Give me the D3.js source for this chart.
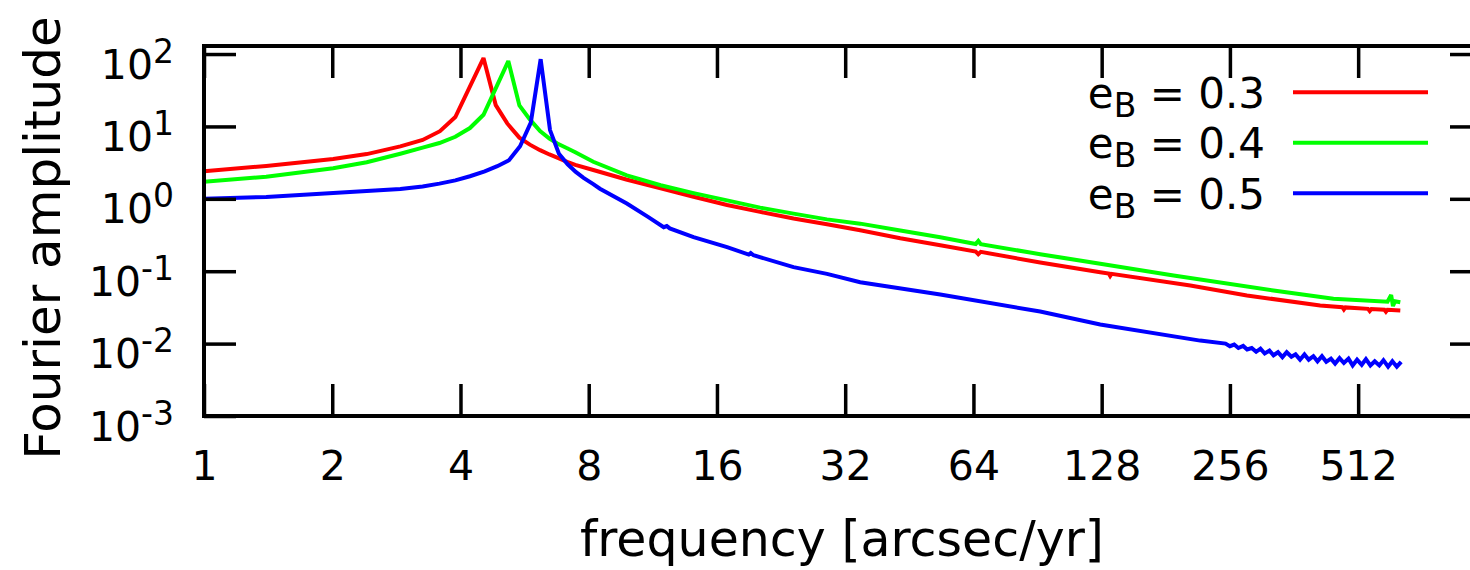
<!DOCTYPE html>
<html>
<head>
<meta charset="utf-8">
<script src="https://cdn.jsdelivr.net/npm/d3@7"></script>
<style>
  html, body { margin: 0; padding: 0; background: #fff; }
  svg { display: block; font-family: "DejaVu Sans", sans-serif; }
</style>
</head>
<body>
<svg id="chart" width="1470" height="570"></svg>
<script>
// Fourier amplitude spectra for three eccentricities, [frequency, amplitude]
const seriesNames = ["0.3", "0.4", "0.5"];
const seriesColors = ["#ff0000", "#00ff00", "#0000ff"];

const spectrum03 = [
  [1.00, 2.40], [1.40, 2.85], [2.01, 3.55], [2.41, 4.15], [2.89, 5.3], [3.26, 6.5],
  [3.58, 8.6], [3.89, 13.5], [4.53, 88], [4.84, 19.7], [5.15, 11.0], [5.50, 7.0],
  [5.82, 5.6], [6.15, 4.7], [6.47, 4.1], [6.79, 3.65], [7.12, 3.25], [7.44, 2.95],
  [8.2, 2.5], [9.8, 1.85], [11.8, 1.40], [14.1, 1.07], [16.9, 0.82], [20.2, 0.66],
  [24.2, 0.535], [29.0, 0.445], [34.7, 0.368], [43.1, 0.285], [53.5, 0.228],
  [64.8, 0.187], [65.7, 0.172], [66.6, 0.185], [91.8, 0.132], [127, 0.097],
  [133, 0.093], [134, 0.086], [135, 0.092], [206.7, 0.0635], [280.7, 0.0462],
  [417, 0.0336], [470, 0.0318], [474, 0.0295], [478, 0.0316], [540, 0.0302],
  [545, 0.0282], [550, 0.0301], [590, 0.0294], [595, 0.0276], [600, 0.0293],
  [643, 0.0286]
];

const spectrum04 = [
  [1.00, 1.72], [1.40, 2.02], [2.01, 2.65], [2.41, 3.2], [2.89, 4.2], [3.26, 5.1],
  [3.57, 5.9], [3.89, 7.2], [4.21, 9.5], [4.53, 14.5], [5.18, 80], [5.50, 19.5],
  [5.82, 12.5], [6.15, 8.6], [6.47, 6.8], [6.79, 5.7], [7.12, 5.0], [7.44, 4.4],
  [8.2, 3.25], [9.83, 2.11], [11.8, 1.54], [14.1, 1.20], [16.9, 0.953], [20.2, 0.755],
  [24.2, 0.624], [29.0, 0.520], [34.7, 0.454], [43.1, 0.365], [53.5, 0.294],
  [64.8, 0.238], [65.7, 0.262], [66.6, 0.236], [91.8, 0.172], [127, 0.127],
  [188.8, 0.0873], [324, 0.0542], [448, 0.0416], [600, 0.0380], [612, 0.0470],
  [618, 0.0330], [625, 0.0385], [643, 0.0373]
];

const spectrum05 = [
  [1.00, 1.00], [1.40, 1.06], [2.01, 1.20], [2.41, 1.28], [2.89, 1.37], [3.26, 1.48],
  [3.57, 1.62], [3.89, 1.80], [4.21, 2.05], [4.56, 2.40], [4.88, 2.82], [5.20, 3.41],
  [5.52, 5.33], [5.85, 11.3], [6.17, 85], [6.49, 8.9], [6.81, 4.2], [7.14, 3.0],
  [7.46, 2.35], [7.78, 1.95], [8.2, 1.6], [8.5, 1.38], [9.83, 0.86], [11.0, 0.567],
  [12.0, 0.405], [12.2, 0.42], [12.4, 0.39], [14.1, 0.296], [16.9, 0.215],
  [19.0, 0.170], [19.2, 0.178], [19.5, 0.166], [24.2, 0.114], [29.0, 0.092],
  [34.7, 0.0705], [53.5, 0.0478], [91.8, 0.0277], [127, 0.0184], [218, 0.0110],
  [250, 0.0100], [256, 0.0092], [262, 0.0097], [268, 0.0087], [275, 0.0093],
  [281, 0.0083], [288, 0.0087], [295, 0.0077], [302, 0.0085], [309, 0.0073],
  [317, 0.0080], [324, 0.0069], [332, 0.0076], [340, 0.0065], [348, 0.0076],
  [357, 0.0066], [365, 0.0071], [374, 0.0060], [383, 0.0071], [392, 0.0060],
  [402, 0.0067], [411, 0.0057], [421, 0.0067], [431, 0.0056], [442, 0.0062],
  [452, 0.0053], [463, 0.0063], [474, 0.0054], [486, 0.0062], [497, 0.0050],
  [509, 0.0060], [522, 0.0051], [534, 0.0061], [547, 0.0050], [560, 0.0057],
  [574, 0.0050], [587, 0.0059], [602, 0.0048], [616, 0.0057], [631, 0.0048],
  [646, 0.0056]
];

const xTickValues = [1, 2, 4, 8, 16, 32, 64, 128, 256, 512];
const yTickExponents = [-3, -2, -1, 0, 1, 2];
const xLabel = "frequency [arcsec/yr]";
const yLabel = "Fourier amplitude";

const allSeries = [spectrum03, spectrum04, spectrum05];

// Layout
const plot = { left: 204, right: 1482, top: 46, bottom: 416 };
const tickLen = 32;
const curveWidth = 4;

const svg = d3.select("#chart");

const x = d3.scaleLog().base(2).domain([1, 1000]).range([plot.left, plot.right]);
const y = d3.scaleLog().base(10).domain([1e-3, Math.pow(10, 2.111)]).range([plot.bottom, plot.top]);

const yTickValues = yTickExponents.map(e => Math.pow(10, e));

// Curves
const line = d3.line().x(d => x(d[0])).y(d => y(d[1])).curve(d3.curveLinear);

svg.append("defs").append("clipPath").attr("id", "plotClip")
  .append("rect")
  .attr("x", plot.left).attr("y", plot.top)
  .attr("width", plot.right - plot.left).attr("height", plot.bottom - plot.top);

const curves = svg.append("g").attr("clip-path", "url(#plotClip)");
allSeries.forEach((s, i) => {
  curves.append("path")
    .datum(s)
    .attr("fill", "none")
    .attr("stroke", seriesColors[i])
    .attr("stroke-width", curveWidth)
    .attr("stroke-linejoin", "miter")
    .attr("stroke-miterlimit", 2)
    .attr("d", line);
});

// Axes: ticks point inward on all four sides
function styleAxis(g) {
  g.select(".domain").remove();
  g.selectAll(".tick line").attr("stroke", "#000").attr("stroke-width", 3.5);
}

const xAxisBottom = svg.append("g")
  .attr("transform", `translate(0,${plot.bottom})`)
  .call(d3.axisBottom(x).tickValues(xTickValues).tickSize(-tickLen).tickFormat(d3.format("d")));
styleAxis(xAxisBottom);
xAxisBottom.selectAll(".tick text")
  .attr("y", 64).attr("dy", null)
  .attr("font-size", 41).attr("fill", "#000")
  .attr("font-family", "DejaVu Sans");

const xAxisTop = svg.append("g")
  .attr("transform", `translate(0,${plot.top})`)
  .call(d3.axisTop(x).tickValues(xTickValues).tickSize(-tickLen).tickFormat(""));
styleAxis(xAxisTop);

const yAxisLeft = svg.append("g")
  .attr("transform", `translate(${plot.left},0)`)
  .call(d3.axisLeft(y).tickValues(yTickValues).tickSize(-tickLen).tickFormat(""));
styleAxis(yAxisLeft);
yAxisLeft.selectAll(".tick").each(function(d) {
  const t = d3.select(this).select("text");
  t.text(null)
    .attr("x", -30).attr("dy", null).attr("y", 24)
    .attr("text-anchor", "end")
    .attr("font-size", 41).attr("fill", "#000")
    .attr("font-family", "DejaVu Sans");
  t.append("tspan").text("10");
  t.append("tspan").attr("dy", -16).attr("font-size", 33).text(String(Math.round(Math.log10(d))));
});

const yAxisRight = svg.append("g")
  .attr("transform", `translate(${plot.right},0)`)
  .call(d3.axisRight(y).tickValues(yTickValues).tickSize(-tickLen).tickFormat(""));
styleAxis(yAxisRight);

// Frame
svg.append("rect")
  .attr("x", plot.left).attr("y", plot.top)
  .attr("width", plot.right - plot.left).attr("height", plot.bottom - plot.top)
  .attr("fill", "none").attr("stroke", "#000").attr("stroke-width", 4);

// Axis titles
svg.append("text")
  .attr("x", 842).attr("y", 556)
  .attr("text-anchor", "middle")
  .attr("font-size", 49).attr("fill", "#000")
  .text(xLabel);

svg.append("text")
  .attr("transform", "translate(60,238) rotate(-90)")
  .attr("text-anchor", "middle")
  .attr("font-size", 50).attr("fill", "#000")
  .text(yLabel);

// Key
const key = svg.append("g");
seriesNames.forEach((name, i) => {
  const rowY = 92.3 + i * 50.5;
  const t = key.append("text")
    .attr("x", 1265).attr("y", rowY + 15.5)
    .attr("text-anchor", "end")
    .attr("font-size", 42).attr("fill", "#000");
  t.append("tspan").text("e");
  t.append("tspan").attr("dy", 9).attr("font-size", 33).text("B");
  t.append("tspan").attr("dy", -9).text(" = " + name);
  key.append("line")
    .attr("x1", 1293).attr("x2", 1428)
    .attr("y1", rowY).attr("y2", rowY)
    .attr("stroke", seriesColors[i]).attr("stroke-width", curveWidth);
});
</script>
</body>
</html>
